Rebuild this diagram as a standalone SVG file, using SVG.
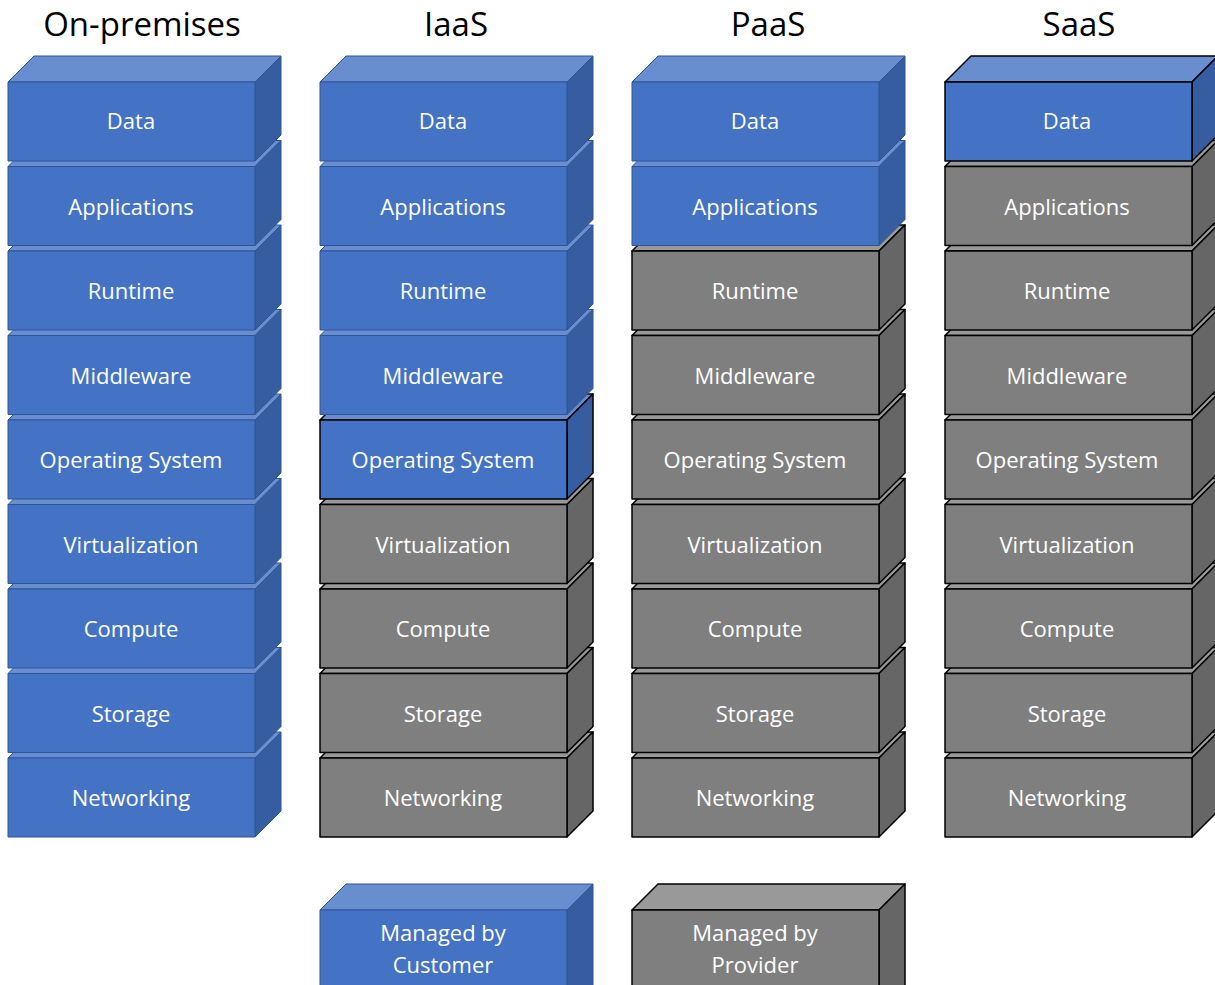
<svg xmlns="http://www.w3.org/2000/svg" xmlns:xlink="http://www.w3.org/1999/xlink" width="1215" height="985" viewBox="0 0 1215 985">
<style>
.hd{font-family:"Open Sans","Liberation Sans",sans-serif;font-size:33px;fill:#000;text-anchor:middle}
.lb{font-family:"Open Sans","Liberation Sans",sans-serif;font-size:22px;fill:#fff;text-anchor:middle}
.bf{fill:#4472C4}.bt{fill:#698ED0}.bs{fill:#355D9F}
.gf{fill:#7F7F7F}.gt{fill:#999999}.gs{fill:#666666}
.sb{stroke:#2F5597;stroke-width:1;stroke-linejoin:round}
.sk{stroke:#000;stroke-width:1.5;stroke-linejoin:round}
</style>
<defs>
<g id="boxB" class="sb">
<polygon class="bt" points="0,0 26,-26 273,-26 247,0"/>
<polygon class="bs" points="247,0 273,-26 273,53 247,79"/>
<rect class="bf" x="0" y="0" width="247" height="79"/>
</g>
<g id="boxBK" class="sk">
<polygon class="bt" points="0,0 26,-26 273,-26 247,0"/>
<polygon class="bs" points="247,0 273,-26 273,53 247,79"/>
<rect class="bf" x="0" y="0" width="247" height="79"/>
</g>
<g id="boxG" class="sk">
<polygon class="gt" points="0,0 26,-26 273,-26 247,0"/>
<polygon class="gs" points="247,0 273,-26 273,53 247,79"/>
<rect class="gf" x="0" y="0" width="247" height="79"/>
</g>
<g id="legB" class="sb">
<polygon class="bt" points="0,0 26,-26 273,-26 247,0"/>
<polygon class="bs" points="247,0 273,-26 273,80 247,106"/>
<rect class="bf" x="0" y="0" width="247" height="106"/>
</g>
<g id="legG" class="sk">
<polygon class="gt" points="0,0 26,-26 273,-26 247,0"/>
<polygon class="gs" points="247,0 273,-26 273,80 247,106"/>
<rect class="gf" x="0" y="0" width="247" height="106"/>
</g>
</defs>
<g id="headers">
<text class="hd" x="142" y="36">On-premises</text>
<text class="hd" x="456" y="36">IaaS</text>
<text class="hd" x="768" y="36">PaaS</text>
<text class="hd" x="1079" y="36">SaaS</text>
</g>
<g id="connectors"></g>
<!-- On-premises -->
<g id="onprem">
<g id="op-net"><use xlink:href="#boxB" x="8" y="758"/><text class="lb" x="131" y="806">Networking</text></g>
<g id="op-sto"><use xlink:href="#boxB" x="8" y="673.5"/><text class="lb" x="131" y="721.5">Storage</text></g>
<g id="op-com"><use xlink:href="#boxB" x="8" y="589"/><text class="lb" x="131" y="637">Compute</text></g>
<g id="op-vir"><use xlink:href="#boxB" x="8" y="504.5"/><text class="lb" x="131" y="552.5">Virtualization</text></g>
<g id="op-os"><use xlink:href="#boxB" x="8" y="420"/><text class="lb" x="131" y="468">Operating System</text></g>
<g id="op-mid"><use xlink:href="#boxB" x="8" y="335.5"/><text class="lb" x="131" y="383.5">Middleware</text></g>
<g id="op-run"><use xlink:href="#boxB" x="8" y="251"/><text class="lb" x="131" y="299">Runtime</text></g>
<g id="op-app"><use xlink:href="#boxB" x="8" y="166.5"/><text class="lb" x="131" y="214.5">Applications</text></g>
<g id="op-dat"><use xlink:href="#boxB" x="8" y="82"/><text class="lb" x="131" y="129">Data</text></g>
</g>
<!-- IaaS -->
<g id="iaas">
<g id="ia-net"><use xlink:href="#boxG" x="320" y="758"/><text class="lb" x="443" y="806">Networking</text></g>
<g id="ia-sto"><use xlink:href="#boxG" x="320" y="673.5"/><text class="lb" x="443" y="721.5">Storage</text></g>
<g id="ia-com"><use xlink:href="#boxG" x="320" y="589"/><text class="lb" x="443" y="637">Compute</text></g>
<g id="ia-vir"><use xlink:href="#boxG" x="320" y="504.5"/><text class="lb" x="443" y="552.5">Virtualization</text></g>
<g id="ia-os"><use xlink:href="#boxBK" x="320" y="420"/><text class="lb" x="443" y="468">Operating System</text></g>
<g id="ia-mid"><use xlink:href="#boxB" x="320" y="335.5"/><text class="lb" x="443" y="383.5">Middleware</text></g>
<g id="ia-run"><use xlink:href="#boxB" x="320" y="251"/><text class="lb" x="443" y="299">Runtime</text></g>
<g id="ia-app"><use xlink:href="#boxB" x="320" y="166.5"/><text class="lb" x="443" y="214.5">Applications</text></g>
<g id="ia-dat"><use xlink:href="#boxB" x="320" y="82"/><text class="lb" x="443" y="129">Data</text></g>
</g>
<!-- PaaS -->
<g id="paas">
<g id="pa-net"><use xlink:href="#boxG" x="632" y="758"/><text class="lb" x="755" y="806">Networking</text></g>
<g id="pa-sto"><use xlink:href="#boxG" x="632" y="673.5"/><text class="lb" x="755" y="721.5">Storage</text></g>
<g id="pa-com"><use xlink:href="#boxG" x="632" y="589"/><text class="lb" x="755" y="637">Compute</text></g>
<g id="pa-vir"><use xlink:href="#boxG" x="632" y="504.5"/><text class="lb" x="755" y="552.5">Virtualization</text></g>
<g id="pa-os"><use xlink:href="#boxG" x="632" y="420"/><text class="lb" x="755" y="468">Operating System</text></g>
<g id="pa-mid"><use xlink:href="#boxG" x="632" y="335.5"/><text class="lb" x="755" y="383.5">Middleware</text></g>
<g id="pa-run"><use xlink:href="#boxG" x="632" y="251"/><text class="lb" x="755" y="299">Runtime</text></g>
<g id="pa-app"><use xlink:href="#boxB" x="632" y="166.5"/><text class="lb" x="755" y="214.5">Applications</text></g>
<g id="pa-dat"><use xlink:href="#boxB" x="632" y="82"/><text class="lb" x="755" y="129">Data</text></g>
</g>
<!-- SaaS -->
<g id="saas">
<g id="sa-net"><use xlink:href="#boxG" x="945" y="758"/><text class="lb" x="1067" y="806">Networking</text></g>
<g id="sa-sto"><use xlink:href="#boxG" x="945" y="673.5"/><text class="lb" x="1067" y="721.5">Storage</text></g>
<g id="sa-com"><use xlink:href="#boxG" x="945" y="589"/><text class="lb" x="1067" y="637">Compute</text></g>
<g id="sa-vir"><use xlink:href="#boxG" x="945" y="504.5"/><text class="lb" x="1067" y="552.5">Virtualization</text></g>
<g id="sa-os"><use xlink:href="#boxG" x="945" y="420"/><text class="lb" x="1067" y="468">Operating System</text></g>
<g id="sa-mid"><use xlink:href="#boxG" x="945" y="335.5"/><text class="lb" x="1067" y="383.5">Middleware</text></g>
<g id="sa-run"><use xlink:href="#boxG" x="945" y="251"/><text class="lb" x="1067" y="299">Runtime</text></g>
<g id="sa-app"><use xlink:href="#boxG" x="945" y="166.5"/><text class="lb" x="1067" y="214.5">Applications</text></g>
<g id="sa-dat"><use xlink:href="#boxBK" x="945" y="82"/><text class="lb" x="1067" y="129">Data</text></g>
</g>
<!-- Legend -->
<g id="legend-customer"><use xlink:href="#legB" x="320" y="910"/><text class="lb" x="443" y="941">Managed by</text><text class="lb" x="443" y="973">Customer</text></g>
<g id="legend-provider"><use xlink:href="#legG" x="632" y="910"/><text class="lb" x="755" y="941">Managed by</text><text class="lb" x="755" y="973">Provider</text></g>
</svg>
